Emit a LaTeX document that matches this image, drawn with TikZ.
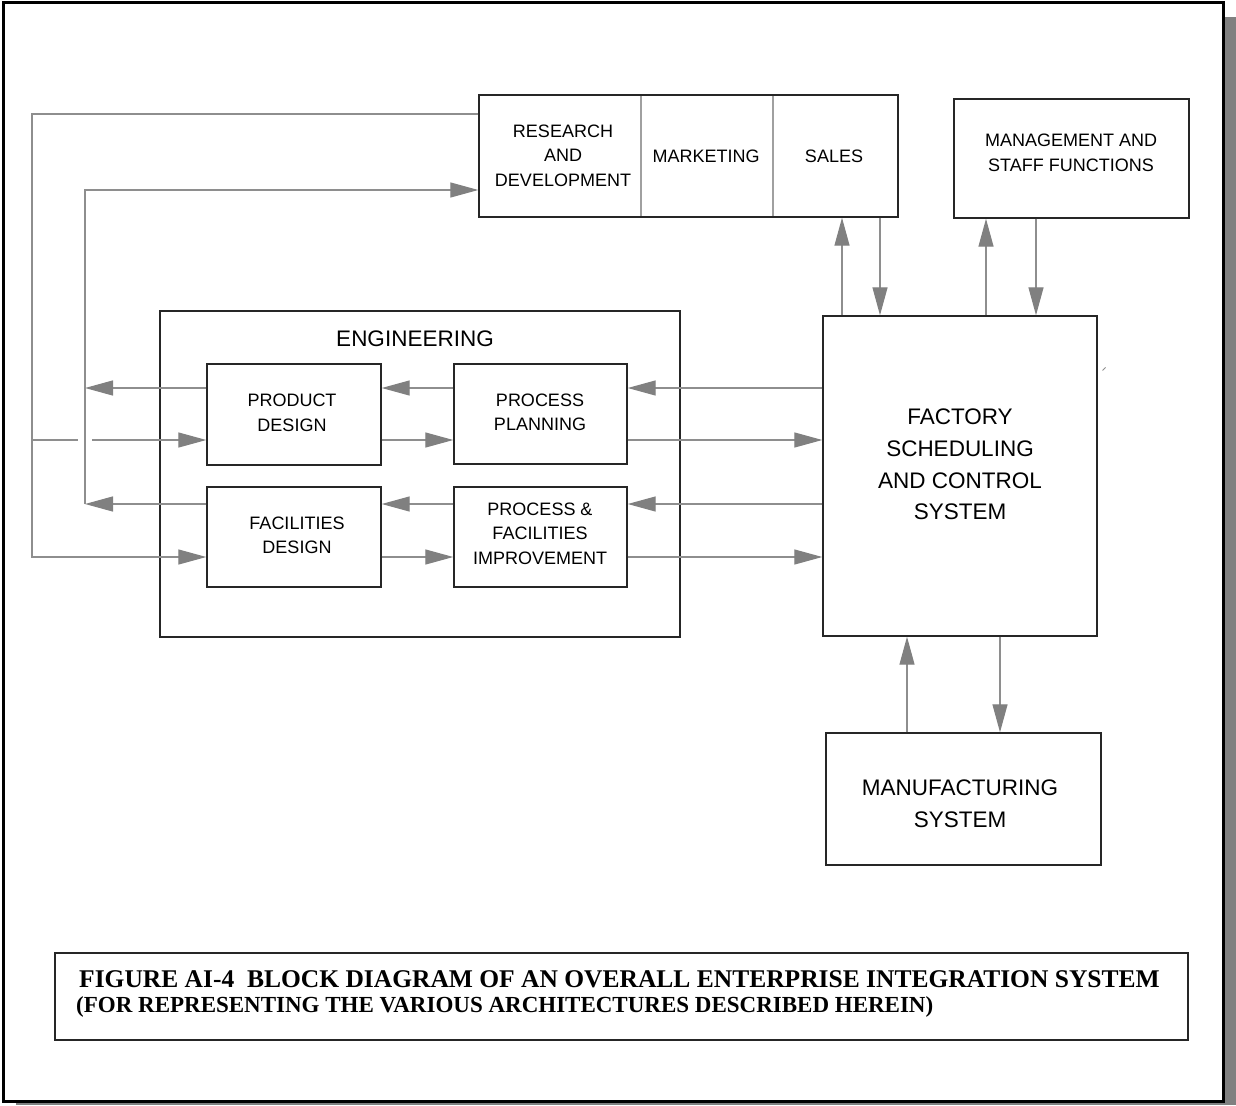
\documentclass[tikz,border=0pt]{standalone}
\usepackage{fontspec}
\setmainfont{Liberation Sans}
\newfontfamily\capfont{Liberation Serif}
\usetikzlibrary{arrows.meta,calc}

\definecolor{linegray}{HTML}{8E8E8E}
\definecolor{headgray}{HTML}{808080}
\definecolor{boxline}{HTML}{262626}
\definecolor{divgray}{HTML}{A0A0A0}

\begin{document}
\begin{tikzpicture}[x=1pt,y=-1pt,
  box/.style={draw=boxline, line width=1.4pt, fill=white, inner sep=0pt, rectangle},
  txt/.style={inner sep=0pt, align=center, font=\fontsize{18}{24.5}\selectfont},
  bigtxt/.style={inner sep=0pt, align=center, font=\fontsize{22.5}{31.7}\selectfont},
  conn/.style={draw=linegray, line width=1.3pt},
  arr/.style={conn, -{Triangle[length=28pt,width=15pt,fill=headgray,color=headgray]}}
]
\useasboundingbox (0,0) rectangle (1236,1105);

% page frame with drop shadow
\fill[headgray] (1225,17) rectangle (1236,1105);
\fill[headgray] (16,1102) rectangle (1236,1105);
\draw[line width=3pt] (3,3) rectangle (1223,1101);

% research / marketing / sales block
\node[draw=divgray, line width=1.1pt, minimum width=162pt, minimum height=122pt, inner sep=0pt] (rdv) at (560,156) {};
\node[draw=divgray, line width=1.1pt, minimum width=132pt, minimum height=122pt, inner sep=0pt] (mkt) at (707,156) {};
\node[draw=divgray, line width=1.1pt, minimum width=125pt, minimum height=122pt, inner sep=0pt] (sal) at (835.5,156) {};
\node[draw=boxline, line width=1.4pt, minimum width=419pt, minimum height=122pt, inner sep=0pt] (rd) at (688.5,156) {};
\node[txt] (rdvt) at (563,155.5) {RESEARCH\\AND\\DEVELOPMENT};
\node[txt] (mktt) at (706,156) {MARKETING};
\node[txt] (salt) at (834,156) {SALES};

% management
\node[box, minimum width=235pt, minimum height=119pt] (mg) at (1071.5,158.5) {};
\node[txt] (mgt) at (1071,153) {MANAGEMENT AND\\STAFF FUNCTIONS};

% engineering group
\node[draw=boxline, line width=1.2pt, minimum width=520pt, minimum height=326pt, inner sep=0pt] (eng) at (420,474) {};
\node[bigtxt] (engt) at (415,339) {ENGINEERING};

\node[box, minimum width=174pt, minimum height=101pt] (pd) at (294,414.5) {};
\node[txt] (pdt) at (292,413) {PRODUCT\\DESIGN};
\node[box, minimum width=173pt, minimum height=100pt] (pp) at (540.5,414) {};
\node[txt] (ppt) at (540,412.5) {PROCESS\\PLANNING};
\node[box, minimum width=174pt, minimum height=100pt] (fd) at (294,537) {};
\node[txt] (fdt) at (297,535.5) {FACILITIES\\DESIGN};
\node[box, minimum width=173pt, minimum height=100pt] (pfi) at (540.5,537) {};
\node[txt] (pfit) at (540,533.5) {PROCESS \&\\FACILITIES\\IMPROVEMENT};

% factory and manufacturing
\node[box, minimum width=274pt, minimum height=320pt] (fac) at (960,476) {};
\node[bigtxt] (fact) at (960,464.5) {FACTORY\\SCHEDULING\\AND CONTROL\\SYSTEM};
\node[box, minimum width=275pt, minimum height=132pt] (man) at (963.5,799) {};
\node[bigtxt] (mant) at (960,803.5) {MANUFACTURING\\SYSTEM};

% caption
\node[draw=boxline, line width=1.6pt, minimum width=1133pt, minimum height=87pt, inner sep=0pt] (cap) at (621.5,996.5) {};
\node[inner sep=0pt, anchor=base west, font=\capfont\bfseries\fontsize{25.5}{30}\selectfont] (cap1) at (79,987)
  {FIGURE AI-4\ \ BLOCK DIAGRAM OF AN OVERALL ENTERPRISE INTEGRATION SYSTEM};
\node[inner sep=0pt, anchor=base west, font=\capfont\bfseries\fontsize{23}{28}\selectfont] (cap2) at (76,1012)
  {(FOR REPRESENTING THE VARIOUS ARCHITECTURES DESCRIBED HEREIN)};

% attachment points
\coordinate (busA) at (32,0);
\coordinate (busB) at (85,0);
\coordinate (rdTop) at ([yshift=42pt]rd.west);
\coordinate (rdIn)  at ([yshift=-34pt]rd.west);
\coordinate (pdOut) at ([yshift=26.5pt]pd.west);
\coordinate (pdIn)  at ([yshift=-25.5pt]pd.west);
\coordinate (fdOut) at ([yshift=33pt]fd.west);
\coordinate (fdIn)  at ([yshift=-20pt]fd.west);
\coordinate (ppL1)  at ([yshift=26pt]pp.west);
\coordinate (ppL2)  at ([yshift=-26pt]pp.west);
\coordinate (pfL1)  at ([yshift=33pt]pfi.west);
\coordinate (pfL2)  at ([yshift=-20pt]pfi.west);
\coordinate (fu1) at ([xshift=-118pt]fac.north);
\coordinate (fd1) at ([xshift=-80pt]fac.north);
\coordinate (fu2) at ([xshift=26pt]fac.north);
\coordinate (fd2) at ([xshift=76pt]fac.north);
\coordinate (bu) at ([xshift=-53pt]fac.south);
\coordinate (bd) at ([xshift=40pt]fac.south);

% outer feedback loop from research & development
\draw[arr] (rdTop) -| (busA |- fdIn) -- (fdIn);
\draw[conn] (busA |- pdIn) -- ([xshift=-7pt]busB |- pdIn);
\draw[arr] ([xshift=7pt]busB |- pdIn) -- (pdIn);

% inner return loop to research & development
\draw[arr] (pdOut) -- (busB |- pdOut);
\draw[arr] (fdOut) -- (busB |- fdOut);
\draw[arr] (busB |- fdOut) -- (busB |- rdIn) -- (rdIn);

% engineering internal flows
\draw[arr] (ppL1) -- (pd.east |- ppL1);
\draw[arr] (pd.east |- ppL2) -- (ppL2);
\draw[arr] (pfL1) -- (fd.east |- pfL1);
\draw[arr] (fd.east |- pfL2) -- (pfL2);

% factory <-> engineering
\draw[arr] (fac.west |- ppL1) -- (pp.east |- ppL1);
\draw[arr] (pp.east |- ppL2) -- (fac.west |- ppL2);
\draw[arr] (fac.west |- pfL1) -- (pfi.east |- pfL1);
\draw[arr] (pfi.east |- pfL2) -- (fac.west |- pfL2);

% factory <-> sales, management
\draw[arr] (fu1) -- (fu1 |- rd.south);
\draw[arr] (fd1 |- rd.south) -- (fd1);
\draw[arr] (fu2) -- (fu2 |- mg.south);
\draw[arr] (fd2 |- mg.south) -- (fd2);

% factory <-> manufacturing
\draw[arr] (bu |- man.north) -- (bu);
\draw[arr] (bd) -- (bd |- man.north);

% stray tick beside the factory box
\draw[linegray, line width=1pt] (1102.5,370.5) -- (1105.5,367.5);
\end{tikzpicture}
\end{document}
